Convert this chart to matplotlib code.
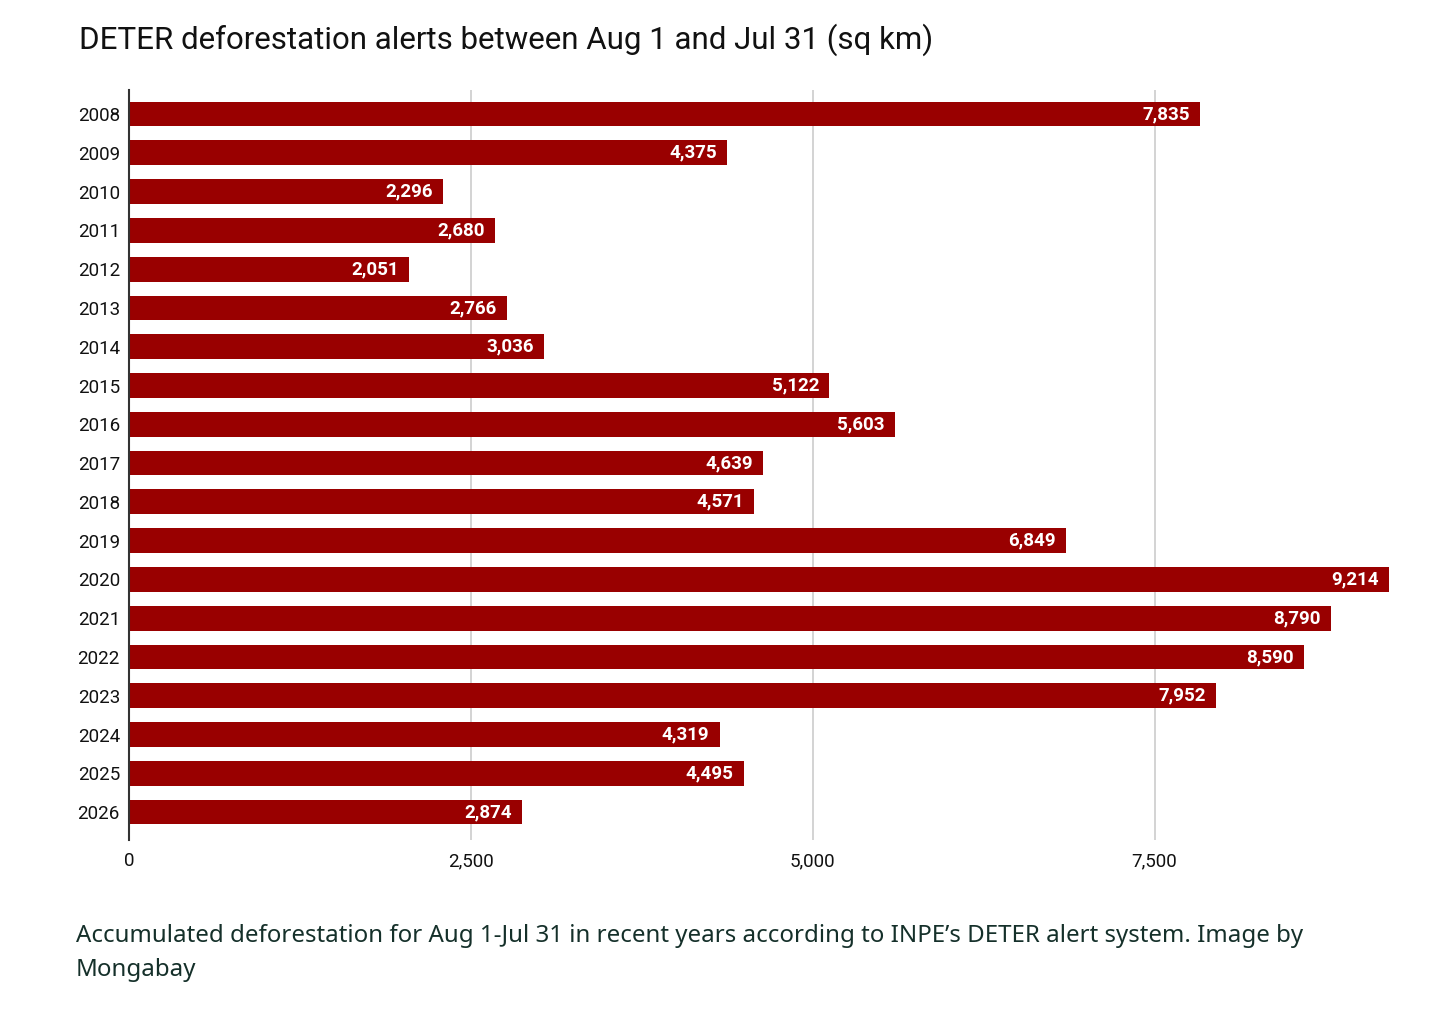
import matplotlib
matplotlib.use("Agg")
import matplotlib.pyplot as plt

years = ["2008", "2009", "2010", "2011", "2012", "2013", "2014", "2015", "2016", "2017",
         "2018", "2019", "2020", "2021", "2022", "2023", "2024", "2025", "2026"]
values = [7835, 4375, 2296, 2680, 2051, 2766, 3036, 5122, 5603, 4639,
          4571, 6849, 9214, 8790, 8590, 7952, 4319, 4495, 2874]
xticks = [0, 2500, 5000, 7500]
xtick_labels = ["0", "2,500", "5,000", "7,500"]

title = "DETER deforestation alerts between Aug 1 and Jul 31 (sq km)"
caption = ("Accumulated deforestation for Aug 1-Jul 31 in recent years according to INPE\u2019s DETER alert system. Image by\n"
           "Mongabay")

plt.rcParams['font.family'] = ['Roboto', 'DejaVu Sans']

W, H = 1456, 1030
fig = plt.figure(figsize=(W / 100, H / 100), dpi=100)
ax = fig.add_axes([129 / W, 1 - 840 / H, (1389 - 129) / W, (840 - 90) / H])

bar_color = "#990000"
pos = list(range(len(years)))
ax.barh(pos, values, height=0.64, color=bar_color, zorder=3)
ax.set_ylim(len(years) - 1 + 0.72, -0.62)
ax.set_xlim(0, 9214)

ax.set_yticks(pos)
ax.set_yticklabels(years, fontsize=13.5, color="#111111")
ax.set_xticks(xticks)
ax.set_xticklabels(xtick_labels, fontsize=13.5, color="#111111")
ax.tick_params(axis="both", length=0)
ax.tick_params(axis="y", pad=6.5)
ax.tick_params(axis="x", pad=9)

ax.grid(axis="x", color="#cccccc", linewidth=1.2, zorder=0)
ax.grid(axis="y", visible=False)
for s in ["top", "right", "bottom"]:
    ax.spines[s].set_visible(False)
ax.spines["left"].set_color("#333333")
ax.spines["left"].set_linewidth(1.5)
ax.spines["left"].set_zorder(4)

for p, v in zip(pos, values):
    ax.text(v - 75, p, f"{v:,}", ha="right", va="center", fontsize=13.5,
            fontweight="bold", color="white", zorder=5)

fig.text(79 / W, 1 - 40 / H, title, fontsize=22.5, color="#111111", ha="left", va="center")
fig.text(76 / W, 1 - 953 / H, caption, fontsize=17.3, color="#15302a", ha="left", va="center",
         family=["Noto Sans", "DejaVu Sans"], linespacing=1.6)

fig.savefig("out.png", dpi=100, facecolor="white")
